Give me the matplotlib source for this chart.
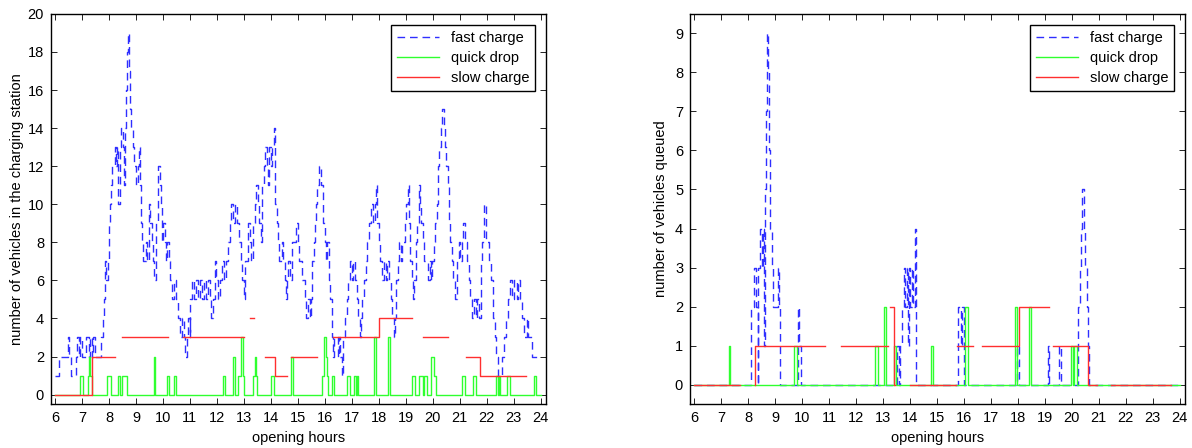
import matplotlib
matplotlib.use('Agg')
import matplotlib.pyplot as plt
import numpy as np

nan = np.nan

# ---- left panel: vehicles in the charging station ----
left_fast_t = [6.00, 6.15, 6.48, 6.52, 6.60, 6.79, 6.83, 6.88, 6.93, 7.01, 7.16, 7.25, 7.30, 7.36,
               7.41, 7.47, 7.72, 7.78, 7.81, 7.85, 7.90, 7.96, 8.00, 8.04, 8.09, 8.12, 8.22, 8.26,
               8.31, 8.35, 8.40, 8.44, 8.51, 8.54, 8.59, 8.63, 8.67, 8.70, 8.74, 8.78, 8.83, 8.88,
               8.94, 9.01, 9.06, 9.10, 9.14, 9.17, 9.20, 9.23, 9.27, 9.36, 9.42, 9.48, 9.53, 9.58,
               9.63, 9.68, 9.75, 9.83, 9.88, 9.93, 9.96, 10.01, 10.06, 10.11, 10.16, 10.22, 10.28,
               10.33, 10.40, 10.49, 10.57, 10.64, 10.72, 10.77, 10.83, 10.88, 10.94, 10.99, 11.01,
               11.09, 11.16, 11.23, 11.31, 11.38, 11.46, 11.53, 11.60, 11.68, 11.75, 11.80, 11.85,
               11.93, 11.98, 12.04, 12.12, 12.20, 12.27, 12.35, 12.42, 12.49, 12.54, 12.60, 12.67,
               12.74, 12.81, 12.88, 12.94, 13.00, 13.06, 13.14, 13.21, 13.28, 13.35, 13.41, 13.46,
               13.51, 13.56, 13.62, 13.68, 13.74, 13.79, 13.84, 13.89, 13.94, 14.00, 14.06, 14.12,
               14.17, 14.22, 14.27, 14.32, 14.40, 14.46, 14.51, 14.56, 14.60, 14.65, 14.72, 14.79,
               14.93, 14.99, 15.06, 15.16, 15.25, 15.32, 15.38, 15.44, 15.50, 15.54, 15.59, 15.64,
               15.68, 15.73, 15.78, 15.86, 15.94, 16.00, 16.05, 16.10, 16.16, 16.21, 16.25, 16.30,
               16.35, 16.48, 16.53, 16.58, 16.63, 16.68, 16.75, 16.81, 16.87, 16.93, 17.00, 17.06,
               17.12, 17.18, 17.24, 17.29, 17.34, 17.39, 17.45, 17.52, 17.58, 17.64, 17.71, 17.79,
               17.85, 17.90, 17.95, 18.00, 18.05, 18.11, 18.19, 18.26, 18.32, 18.38, 18.44, 18.50,
               18.55, 18.60, 18.65, 18.70, 18.75, 18.81, 18.88, 18.96, 19.02, 19.07, 19.12, 19.17,
               19.22, 19.27, 19.32, 19.37, 19.42, 19.48, 19.53, 19.58, 19.63, 19.69, 19.83, 19.89,
               19.94, 19.99, 20.05, 20.10, 20.15, 20.20, 20.25, 20.30, 20.36, 20.41, 20.46, 20.51,
               20.56, 20.61, 20.66, 20.71, 20.77, 20.83, 20.89, 20.96, 21.02, 21.08, 21.14, 21.20,
               21.26, 21.33, 21.39, 21.45, 21.52, 21.59, 21.65, 21.71, 21.78, 21.84, 21.90, 21.96,
               22.09, 22.16, 22.24, 22.30, 22.36, 22.42, 22.58, 22.66, 22.73, 22.81, 22.88, 22.96,
               23.03, 23.11, 23.18, 23.25, 23.33, 23.40, 23.48, 23.55, 23.70, 24.00]
left_fast_v = [1, 2, 3, 2, 1, 2, 3, 2, 3, 2, 3, 2, 3, 2,
               3, 2, 3, 4, 5, 7, 6, 7, 9, 10, 11, 12, 13, 12,
               13, 10, 13, 14, 13, 11, 14, 16, 18, 19, 17, 15, 14, 13,
               12, 11, 12, 13, 11, 10, 9, 8, 7, 8, 7, 10, 9, 8,
               7, 6, 9, 12, 11, 10, 8, 9, 8, 7, 8, 7, 6,
               5, 6, 5, 4, 3, 4, 3, 2, 3, 4, 3, 5,
               6, 5, 6, 5, 6, 5, 6, 5, 6, 5, 4, 5,
               7, 6, 5, 6, 7, 6, 7, 8, 9, 10, 9, 10,
               9, 8, 7, 6, 5, 7, 9, 8, 7, 9, 10, 11,
               10, 9, 8, 11, 12, 13, 12, 11, 13, 12, 13, 14,
               10, 9, 8, 7, 8, 7, 6, 5, 6, 7, 6, 8,
               9, 8, 7, 6, 5, 4, 5, 4, 5, 7, 8, 9,
               10, 11, 12, 11, 9, 8, 7, 8, 6, 5, 3, 2,
               3, 2, 3, 2, 1, 3, 4, 5, 6, 7, 6, 7,
               6, 5, 4, 3, 4, 5, 6, 7, 8, 9, 10, 9,
               10, 11, 9, 8, 7, 6, 7, 6, 7, 6, 5, 4,
               3, 4, 6, 7, 8, 7, 8, 9, 10, 11, 9, 7,
               6, 5, 6, 8, 9, 11, 10, 9, 8, 7, 6, 7,
               6, 7, 8, 9, 10, 12, 13, 14, 15, 14, 13, 12,
               11, 9, 8, 7, 6, 5, 7, 8, 7, 8, 9, 8,
               7, 6, 5, 4, 5, 4, 5, 4, 7, 8, 10, 8,
               7, 6, 4, 3, 2, 1, 2, 3, 4, 5, 6, 5,
               6, 5, 6, 5, 4, 3, 4, 3, 2, 2]

left_drop_t = [6.00, 6.94, 7.04, 7.22, 7.27, 7.30, 7.36, 7.93, 8.09, 8.33, 8.41, 8.49, 8.67,
               9.66, 9.72, 10.15, 10.22, 10.41, 10.47, 12.22, 12.30, 12.60, 12.69, 12.79, 12.91,
               12.95, 12.99, 13.33, 13.40, 13.44, 13.48, 14.02, 14.11, 14.73, 14.84, 15.91, 15.98,
               16.04, 16.08, 16.12, 16.25, 16.35, 16.81, 16.93, 17.09, 17.16, 17.19, 17.24, 17.83,
               17.90, 18.33, 18.40, 19.23, 19.35, 19.50, 19.63, 19.68, 19.79, 19.93, 20.05, 20.12,
               21.09, 21.19, 21.49, 21.59, 22.34, 22.42, 22.46, 22.51, 22.76, 22.86, 23.76, 23.85,
               24.00]
left_drop_v = [0, 1, 0, 1, 2, 1, 0, 1, 0, 1, 0, 1, 0,
               2, 0, 1, 0, 1, 0, 1, 0, 2, 0, 1, 3,
               1, 0, 1, 2, 1, 0, 1, 0, 2, 0, 1, 3,
               2, 1, 0, 1, 0, 1, 0, 1, 0, 1, 0, 3,
               0, 3, 0, 1, 0, 1, 0, 1, 0, 2, 1, 0,
               1, 0, 1, 0, 1, 0, 1, 0, 1, 0, 1, 0,
               0]

left_slow_t = [6.00, 7.38, 8.21, 8.49, 10.19, 10.74, 12.99, 13.23, 13.36, 13.79, 14.17, 14.59,
               14.75, 15.73, 16.31, 18.02, 19.25, 19.63, 20.57, 21.22, 21.74, 23.45]
left_slow_v = [0, 2, nan, 3, nan, 3, nan, 4, nan, 2, 1, nan,
               2, nan, 3, 4, nan, 3, nan, 2, 1, nan]

# ---- right panel: vehicles queued ----
right_fast_t = [6.00, 8.10, 8.22, 8.30, 8.36, 8.38, 8.46, 8.53, 8.56, 8.58, 8.62, 8.66, 8.70,
                8.74, 8.78, 8.83, 8.88, 8.92, 9.10, 9.13, 9.17, 9.20, 9.85, 9.90, 9.96, 13.52,
                13.58, 13.63, 13.70, 13.78, 13.83, 13.88, 13.93, 13.97, 14.02, 14.07, 14.12,
                14.18, 14.22, 15.80, 15.88, 15.92, 16.02, 17.98, 18.03, 19.11, 19.16, 19.54,
                19.59, 20.25, 20.31, 20.36, 20.40, 20.46, 20.51, 20.55, 20.60, 20.66, 24.00]
right_fast_v = [0, 2, 3, 2, 0, 3, 4, 3, 4, 1, 5, 7, 9,
                8, 6, 4, 3, 2, 3, 2, 1, 0, 2, 1, 0, 1,
                0, 1, 2, 3, 2, 3, 1, 3, 2, 3, 2,
                4, 0, 2, 1, 2, 0, 1, 0, 1, 0, 1,
                0, 2, 3, 4, 5, 4, 3, 2, 1, 0, 0]

right_drop_t = [6.00, 7.28, 7.34, 9.70, 9.83, 12.70, 12.83, 13.03, 13.10, 13.42, 13.50, 14.77,
                14.87, 16.05, 16.17, 17.90, 17.98, 18.40, 18.50, 19.97, 20.04, 20.09, 20.19, 24.00]
right_drop_v = [0, 1, 0, 1, 0, 1, 0, 2, 0, 1, 0, 1,
                0, 2, 0, 2, 0, 2, 0, 1, 0, 1, 0, 0]

right_slow_t = [6.00, 7.72, 8.25, 8.27, 10.86, 11.43, 13.19, 13.28, 13.42, 13.45, 14.00, 15.70,
                15.76, 16.35, 16.66, 18.05, 19.17, 19.32, 20.62, 20.95, 21.45, 23.70]
right_slow_v = [0, nan, 0, 1, nan, 1, nan, 2, 0, nan, 0, nan,
                1, nan, 1, 2, nan, 1, 0, nan, 0, nan]

hours = list(range(6, 25))

plt.rcParams['font.family'] = ['Liberation Sans', 'DejaVu Sans']
plt.rcParams['font.size'] = 10.5

fig = plt.figure(figsize=(11.92, 4.48), dpi=100)
ax1 = fig.add_axes([0.0428, 0.098, 0.4152, 0.871])
ax2 = fig.add_axes([0.5789, 0.098, 0.4152, 0.871])

blue = '#2f2fff'
green = '#2fff2f'
red = '#ff2f2f'


def draw(ax, ft, fv, dt, dv, st, sv):
    ax.step(ft, fv, where='post', color=blue, lw=1.0, dashes=(5.5, 3.5), label='fast charge')
    ax.step(dt, dv, where='post', color=green, lw=1.0, label='quick drop')
    ax.step(st, sv, where='post', color=red, lw=1.0, label='slow charge')
    ax.set_xlim(5.85, 24.2)
    ax.set_xticks(hours)
    ax.set_xlabel('opening hours', labelpad=4)
    ax.tick_params(direction='in', top=True, right=True, length=4, width=0.6, pad=5)
    for s in ax.spines.values():
        s.set_linewidth(1.0)
    leg = ax.legend(loc='upper right', fancybox=False, edgecolor='black', framealpha=1,
                    handlelength=2.9, labelspacing=0.42, borderaxespad=0.75, borderpad=0.4)
    leg.get_frame().set_linewidth(1.0)


draw(ax1, left_fast_t, left_fast_v, left_drop_t, left_drop_v, left_slow_t, left_slow_v)
ax1.set_ylim(-0.5, 20)
ax1.set_yticks(range(0, 21, 2))
ax1.set_ylabel('number of vehicles in the charging station', labelpad=3)

draw(ax2, right_fast_t, right_fast_v, right_drop_t, right_drop_v, right_slow_t, right_slow_v)
ax2.set_ylim(-0.5, 9.5)
ax2.set_yticks(range(0, 10))
ax2.set_ylabel('number of vehicles queued', labelpad=5)

fig.savefig('out.png', dpi=100)
